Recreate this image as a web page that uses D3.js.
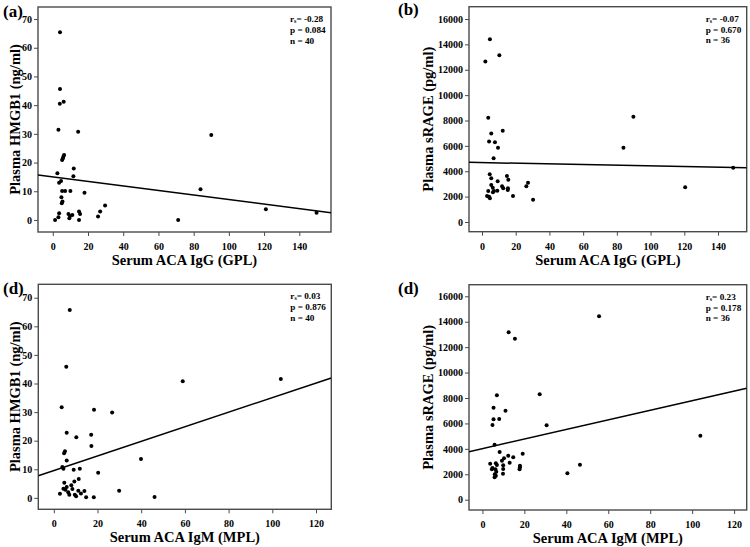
<!DOCTYPE html>
<html><head><meta charset="utf-8">
<script src="https://cdn.jsdelivr.net/npm/d3@7"></script>
<style>body{margin:0;background:#fff}svg{display:block}text{font-family:"Liberation Serif","Times New Roman",serif;font-weight:bold;fill:#000}</style>
</head><body><svg id="c" width="750" height="547"></svg>
<script>
// ---- data ----
const xTicksIgG = [0,20,40,60,80,100,120,140];
const xTicksIgM = [0,20,40,60,80,100,120];
const yTicksHMGB1 = [0,10,20,30,40,50,60,70];
const yTicksRAGE = [0,2000,4000,6000,8000,10000,12000,14000,16000];

const aX = [4.1,4.1,4.0,6.2,3.2,14.4,6.4,6.0,5.7,5.3,11.9,2.6,11.7,4.7,3.6,5.3,7.0,10.0,18.0,4.9,5.5,5.1,29.7,26.9,3.6,3.2,1.3,8.9,9.8,9.4,11.1,14.9,15.5,14.9,25.7,71.2,83.9,90.0,121.0,149.8];
const aY = [65.4,45.6,40.5,41.2,31.4,30.7,22.6,22.0,21.4,20.9,17.9,16.3,15.2,13.6,13.0,10.1,10.1,10.1,9.5,7.9,6.4,5.8,5.0,2.9,2.3,0.9,0.0,2.1,1.4,0.6,1.7,2.9,2.1,0.0,1.2,0.0,10.7,29.6,3.7,2.5];
const aFit = [15.03,-0.0793];

const bX = [4.7,10.3,2.0,3.7,5.5,12.3,4.2,7.7,9.5,6.9,4.6,5.5,14.8,15.6,5.5,6.4,9.3,11.9,12.6,15.4,15.3,3.7,9.1,6.5,7.1,3.0,4.2,4.7,18.4,26.3,27.3,30.3,89.8,83.9,120.5,149.0];
const bY = [14409,13150,12654,8213,6984,7189,6354,6276,5850,5016,3756,3441,3622,3331,2913,2701,3205,2811,2654,2654,2520,2441,2465,2339,2441,2047,1992,1866,2047,2811,3094,1756,8291,5850,2732,4276];
const bFit = [4681,-2.58];

const cX = [7.3,5.7,59.0,103.9,3.6,18.4,26.7,5.9,17.1,10.3,17.2,5.1,4.7,5.9,39.9,3.9,4.4,9.1,11.9,20.3,11.4,4.8,9.4,5.9,4.4,5.3,8.5,11.2,14.0,2.8,7.1,9.6,10.2,14.8,18.3,29.9,46.1,6.6,8.0,12.4];
const cY = [65.7,45.9,40.8,41.6,31.7,30.8,29.9,22.8,22.1,21.2,18.1,16.3,15.6,13.1,13.6,10.8,10.2,9.8,10.2,8.8,6.6,5.3,5.7,3.8,3.2,2.8,3.1,2.5,2.4,1.4,1.1,1.1,0.6,0.2,0.2,2.5,0.3,2.0,4.4,1.5];
const cFit = [9.57,0.255];

const dX = [12.5,15.5,27.3,6.9,5.3,11.0,5.3,8.0,4.8,30.6,5.8,8.2,19.2,12.3,14.7,10.3,9.3,13.0,3.7,6.4,6.9,9.9,17.9,4.8,17.9,17.7,4.5,6.2,9.9,6.6,5.9,9.8,6.4,5.8,55.6,103.9,46.5,40.5];
const dY = [13166,12663,8290,8211,7236,7000,6323,6347,5875,5852,4326,3752,3618,3461,3335,3256,3067,2910,2831,2863,2729,2706,2674,2493,2548,2391,2391,2391,2415,2202,1998,2045,1888,1762,14424,5034,2753,2076];
const dFit = [4021,37.7];

const panels = [
  {label:"(a)", xs:aX, ys:aY, fit:aFit, xt:xTicksIgG, yt:yTicksHMGB1, xDom:[-8.4,158], yDom:[-4.2,74.2],
   box:[38,7,331,232], xTitle:"Serum ACA IgG (GPL)", yTitle:"Plasma HMGB1 (ng/ml)", stats:["-0.28","0.084","40"], lab:[3,17], yTitleX:15},
  {label:"(b)", xs:bX, ys:bY, fit:bFit, xt:xTicksIgG, yt:yTicksRAGE, xDom:[-7.7,157], yDom:[-765,16970],
   box:[469,6.7,746.7,231.7], xTitle:"Serum ACA IgG (GPL)", yTitle:"Plasma sRAGE (pg/ml)", stats:["-0.07","0.670","36"], lab:[398,15], yTitleX:428},
  {label:"(d)", xs:cX, ys:cY, fit:cFit, xt:xTicksIgM, yt:yTicksHMGB1, xDom:[-7.1,127], yDom:[-4.0,74.7],
   box:[38.3,284.3,331.3,509.3], xTitle:"Serum ACA IgM (MPL)", yTitle:"Plasma HMGB1 (ng/ml)", stats:["0.03","0.876","40"], lab:[3,294], yTitleX:15},
  {label:"(d)", xs:dX, ys:dY, fit:dFit, xt:xTicksIgM, yt:yTicksRAGE, xDom:[-6.4,126], yDom:[-810,16912],
   box:[469,284.7,746.7,510], xTitle:"Serum ACA IgM (MPL)", yTitle:"Plasma sRAGE (pg/ml)", stats:["0.23","0.178","36"], lab:[398,294], yTitleX:428}
];

const svg = d3.select("#c");
const frameCol = "#4a4a4a";

panels.forEach(p => {
  const [x0,y0,x1,y1] = p.box;
  const x = d3.scaleLinear().domain(p.xDom).range([x0,x1]);
  const y = d3.scaleLinear().domain(p.yDom).range([y1,y0]);
  const g = svg.append("g");

  // axes
  const ya = g.append("g").attr("transform",`translate(${x0},0)`)
    .call(d3.axisLeft(y).tickValues(p.yt).tickSize(4).tickPadding(2).tickFormat(d3.format("d")));
  const xa = g.append("g").attr("transform",`translate(0,${y1})`)
    .call(d3.axisBottom(x).tickValues(p.xt).tickSize(4).tickPadding(7).tickFormat(d3.format("d")));
  [ya,xa].forEach(a=>{
    a.select(".domain").remove();
    a.selectAll("line").attr("stroke",frameCol).attr("stroke-width",1);
    a.selectAll("text").style("font-size","10px").style("font-family","'Liberation Serif',serif").style("font-weight","bold").attr("fill","#000");
  });

  // frame
  g.append("rect").attr("x",x0).attr("y",y0).attr("width",x1-x0).attr("height",y1-y0)
    .attr("fill","none").attr("stroke",frameCol).attr("stroke-width",1.4);

  // points
  g.append("g").selectAll("circle").data(p.xs.map((v,i)=>[v,p.ys[i]])).join("circle")
    .attr("cx",d=>x(d[0])).attr("cy",d=>y(d[1])).attr("r",2).attr("fill","#000");

  // fit line
  const clip = "clip"+Math.round(x0)+"_"+Math.round(y0);
  g.append("clipPath").attr("id",clip).append("rect").attr("x",x0).attr("y",y0).attr("width",x1-x0).attr("height",y1-y0);
  const line = d3.line().x(d=>x(d)).y(d=>y(p.fit[0]+p.fit[1]*d));
  g.append("path").attr("d",line(p.xDom)).attr("stroke","#000").attr("stroke-width",1.5).attr("fill","none").attr("clip-path",`url(#${clip})`);

  // stats
  const sx = x1 - 41, sy = y0 + 15;
  const fs = "9.2px";
  const t1 = g.append("text").attr("x",sx).attr("y",sy).style("font-size",fs);
  t1.append("tspan").text("r");
  t1.append("tspan").text("s").attr("dy",1).style("font-size","6px");
  t1.append("tspan").text("= "+p.stats[0]).attr("dy",-1);
  g.append("text").attr("x",sx).attr("y",sy+10.8).style("font-size",fs).text("p = "+p.stats[1]);
  g.append("text").attr("x",sx).attr("y",sy+21.6).style("font-size",fs).text("n = "+p.stats[2]);

  // titles
  g.append("text").attr("x",(x0+x1)/2).attr("y",y1+33).attr("text-anchor","middle").style("font-size","14.5px").text(p.xTitle);
  g.append("text").attr("transform",`translate(${p.yTitleX},${(y0+y1)/2}) rotate(-90)`).attr("text-anchor","middle")
    .attr("dy","0.35em").style("font-size","14.5px").text(p.yTitle);
  g.append("text").attr("x",p.lab[0]).attr("y",p.lab[1]).style("font-size","17px").text(p.label);
});
</script></body></html>
